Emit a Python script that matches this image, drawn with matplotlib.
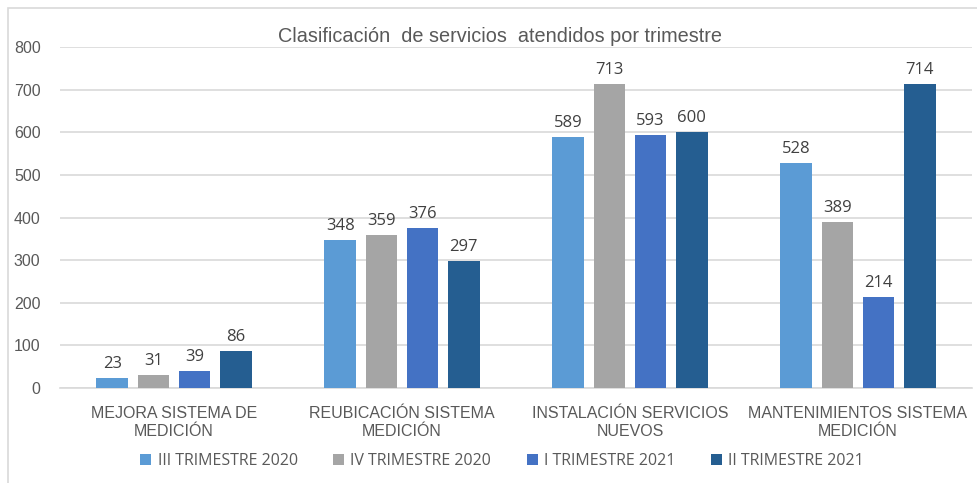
import matplotlib.pyplot as plt
import numpy as np
from matplotlib.patches import Rectangle

# Data
categories = [
    "MEJORA SISTEMA DE\nMEDICIÓN",
    "REUBICACIÓN SISTEMA\nMEDICIÓN",
    "INSTALACIÓN SERVICIOS\nNUEVOS",
    "MANTENIMIENTOS SISTEMA\nMEDICIÓN",
]
series_names = ["III TRIMESTRE 2020", "IV TRIMESTRE 2020",
                "I TRIMESTRE 2021", "II TRIMESTRE 2021"]
q3_2020 = [23, 348, 589, 528]
q4_2020 = [31, 359, 713, 389]
q1_2021 = [39, 376, 593, 214]
q2_2021 = [86, 297, 600, 714]
yticks = [0, 100, 200, 300, 400, 500, 600, 700, 800]

colors = ["#5B9BD5", "#A5A5A5", "#4472C4", "#255E91"]
AXIS_GRAY = "#595959"
LABEL_GRAY = "#404040"

fig = plt.figure(figsize=(9.77, 4.83), dpi=100)
ax = fig.add_axes([60 / 977, 1 - 388 / 483, 912 / 977, (388 - 47) / 483])

# light frame around the chart, like the office chart area
fig.patches.append(Rectangle((8 / 977, -0.01), 1.1, 1 - 8 / 483 + 0.01,
                             transform=fig.transFigure, fill=False,
                             edgecolor="#D9D9D9", linewidth=1.2))

x = np.arange(len(categories))
width = 0.14
pitch = 0.18
all_series = [q3_2020, q4_2020, q1_2021, q2_2021]

for i, (vals, name, col) in enumerate(zip(all_series, series_names, colors)):
    offs = (i - 1.5) * pitch
    bars = ax.bar(x + offs, vals, width, color=col, label=name, zorder=3)
    for b, v in zip(bars, vals):
        ax.text(b.get_x() + b.get_width() / 2, v + 14, str(v),
                ha="center", va="bottom", fontsize=12,
                family="Open Sans", color=LABEL_GRAY)

ax.set_xlim(-0.5, len(categories) - 0.5)
ax.set_ylim(0, 800)
ax.set_yticks(yticks)
ax.set_yticklabels([str(t) for t in yticks], family="Liberation Sans",
                   fontsize=11.5, color=AXIS_GRAY)
ax.set_xticks(x)
ax.set_xticklabels(categories, family="Liberation Sans", fontsize=11.5,
                   color=AXIS_GRAY, linespacing=1.25)
ax.tick_params(axis="both", length=0)
ax.tick_params(axis="y", pad=14)
ax.tick_params(axis="x", pad=13)
ax.grid(axis="y", color="#D9D9D9", linewidth=1.2, zorder=0)
for s in ["top", "right", "left"]:
    ax.spines[s].set_visible(False)
ax.spines["bottom"].set_color("#D9D9D9")
ax.spines["bottom"].set_linewidth(1.2)

fig.text(500 / 977, 1 - 37 / 483, "Clasificación  de servicios  atendidos por trimestre",
         ha="center", va="center", family="Liberation Sans", fontsize=14.3,
         color=AXIS_GRAY)

leg = fig.legend(loc="center", bbox_to_anchor=(502 / 977, 1 - 461 / 483), ncol=4,
                 frameon=False, prop={"family": "Open Sans", "size": 11.5},
                 handlelength=0.7, handleheight=0.7, handletextpad=0.4,
                 columnspacing=2.2)
for t in leg.get_texts():
    t.set_color(AXIS_GRAY)

fig.savefig("out.png", dpi=100)
